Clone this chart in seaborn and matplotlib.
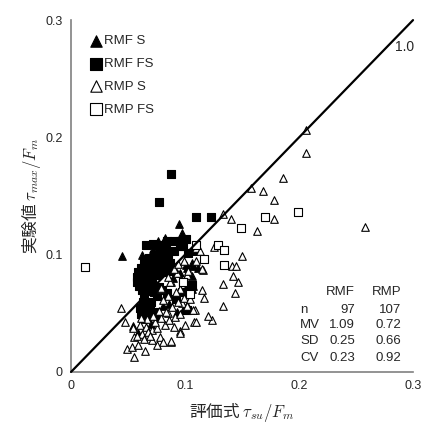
import pandas as pd
import matplotlib
matplotlib.use("Agg")
import matplotlib.pyplot as plt
import seaborn as sns

sns.set_style("white")
plt.rcParams['font.family'] = ['Liberation Sans', 'Noto Sans CJK JP', 'DejaVu Sans']
plt.rcParams['mathtext.fontset'] = 'cm'

# RMF S (filled triangles)
rmf_s_x = [0.045, 0.0945, 0.0766, 0.0825, 0.097, 0.0956, 0.1073, 0.1006, 0.106, 0.1015,
           0.1073, 0.0956, 0.1015, 0.1073, 0.106, 0.1088, 0.1117, 0.106, 0.0927, 0.0985,
           0.054, 0.059, 0.063, 0.070, 0.075, 0.0805, 0.086, 0.0895, 0.072, 0.062]
rmf_s_y = [0.099, 0.1265, 0.112, 0.1143, 0.1185, 0.1128, 0.1028, 0.0914, 0.0928, 0.0886,
           0.090, 0.0843, 0.0729, 0.0729, 0.0815, 0.1028, 0.0886, 0.071, 0.0515, 0.053,
           0.0393, 0.033, 0.045, 0.041, 0.047, 0.056, 0.058, 0.080, 0.105, 0.100]

# RMF FS (filled squares)
rmf_fs_x = [0.066, 0.072, 0.077, 0.084, 0.090, 0.0955, 0.101, 0.0955, 0.090, 0.0985,
            0.103, 0.083, 0.078, 0.0874, 0.0772, 0.110, 0.1225,
            0.073, 0.068, 0.064, 0.061, 0.059, 0.0575, 0.058, 0.060, 0.062, 0.066,
            0.071, 0.0775, 0.081, 0.085, 0.087, 0.084, 0.079, 0.074, 0.068, 0.064,
            0.063, 0.066, 0.070, 0.075, 0.080, 0.088, 0.071, 0.068, 0.064, 0.0635,
            0.065, 0.069, 0.0635, 0.061, 0.066, 0.072, 0.0735, 0.070, 0.075, 0.084,
            0.080, 0.077, 0.073, 0.0605,
            0.0985, 0.097, 0.1015, 0.106, 0.092]
rmf_fs_y = [0.108, 0.109, 0.1085, 0.112, 0.112, 0.112, 0.113, 0.1075, 0.103, 0.107,
            0.101, 0.104, 0.101, 0.169, 0.1447, 0.1325, 0.132,
            0.0995, 0.097, 0.093, 0.089, 0.085, 0.081, 0.077, 0.0735, 0.070, 0.0955,
            0.093, 0.097, 0.094, 0.0985, 0.093, 0.089, 0.090, 0.088, 0.086, 0.082,
            0.077, 0.074, 0.080, 0.083, 0.085, 0.086, 0.075, 0.069, 0.065, 0.060,
            0.056, 0.053, 0.0515, 0.049, 0.047, 0.050, 0.0515, 0.060, 0.0645, 0.067,
            0.070, 0.072, 0.068, 0.0545,
            0.077, 0.068, 0.053, 0.074, 0.062]

# RMP S (open triangles)
rmp_s_x = [0.206, 0.206, 0.186, 0.158, 0.168, 0.178, 0.178, 0.163, 0.140, 0.133,
           0.258, 0.150, 0.1255, 0.1415, 0.1445, 0.142, 0.1468, 0.1336, 0.144, 0.1336,
           0.1237, 0.108, 0.110, 0.0956, 0.1088, 0.1015, 0.1155, 0.110, 0.113, 0.115,
           0.0927, 0.1015, 0.088, 0.0787, 0.097, 0.1073, 0.0854,
           0.0441, 0.047, 0.0489, 0.0538, 0.059, 0.0649, 0.0553, 0.0555, 0.062, 0.0547,
           0.0605, 0.0658, 0.0708, 0.0752, 0.078, 0.0804, 0.0877, 0.0752, 0.0678, 0.0708,
           0.0868, 0.079, 0.0956, 0.1015, 0.088, 0.082, 0.086, 0.091, 0.0955, 0.0835,
           0.079, 0.074, 0.067, 0.061, 0.058, 0.064, 0.069, 0.072, 0.077, 0.089,
           0.094, 0.099, 0.096, 0.092, 0.085, 0.081, 0.104, 0.098, 0.090, 0.094,
           0.099, 0.103, 0.085, 0.1095, 0.1145, 0.117, 0.1205, 0.0905, 0.100]
rmp_s_y = [0.206, 0.187, 0.1655, 0.157, 0.154, 0.147, 0.1305, 0.120, 0.1305, 0.135,
           0.1237, 0.099, 0.1065, 0.090, 0.090, 0.0815, 0.077, 0.075, 0.067, 0.0558,
           0.0444, 0.043, 0.043, 0.0345, 0.053, 0.057, 0.087, 0.1057, 0.1028, 0.0877,
           0.0843, 0.0829, 0.077, 0.0707, 0.0587, 0.053, 0.050,
           0.0544, 0.043, 0.0194, 0.0211, 0.023, 0.0182, 0.0126, 0.0296, 0.0325, 0.0373,
           0.040, 0.0387, 0.0359, 0.0373, 0.0296, 0.0259, 0.0259, 0.023, 0.0344, 0.0273,
           0.077, 0.0714, 0.0336, 0.0558, 0.026, 0.040, 0.044, 0.047, 0.049, 0.051,
           0.046, 0.043, 0.045, 0.046, 0.031, 0.028, 0.031, 0.0475, 0.052, 0.055,
           0.060, 0.063, 0.071, 0.068, 0.065, 0.061, 0.062, 0.079, 0.088, 0.092,
           0.095, 0.086, 0.081, 0.095, 0.070, 0.063, 0.048, 0.038, 0.040]

# RMP FS (open squares)
rmp_fs_x = [0.012, 0.170, 0.199, 0.149, 0.129, 0.1345, 0.117, 0.1345, 0.104, 0.098, 0.110]
rmp_fs_y = [0.0895, 0.132, 0.1365, 0.1225, 0.1085, 0.104, 0.0963, 0.091, 0.0667, 0.077, 0.108]

stat_rows = ['n', 'MV', 'SD', 'CV']
stat_rmf = ['97', '1.09', '0.25', '0.23']
stat_rmp = ['107', '0.72', '0.66', '0.92']

fig = plt.figure(figsize=(4.28, 4.28), dpi=100)
ax = fig.add_axes([0.166, 0.131, 0.799, 0.822])

groups = [
    ('RMF S', rmf_s_x, rmf_s_y, '^', 'black'),
    ('RMF FS', rmf_fs_x, rmf_fs_y, 's', 'black'),
    ('RMP S', rmp_s_x, rmp_s_y, '^', 'white'),
    ('RMP FS', rmp_fs_x, rmp_fs_y, 's', 'white'),
]
for label, xs, ys, mk, fc in groups:
    df = pd.DataFrame({'x': xs, 'y': ys})
    sns.scatterplot(data=df, x='x', y='y', ax=ax, marker=mk, s=30,
                    color=fc, edgecolor='black', linewidth=0.8, label=label, zorder=3)

ax.plot([0, 0.3], [0, 0.3], color='black', linewidth=1.6, clip_on=False, zorder=4)
ax.text(0.284, 0.277, '1.0', fontsize=10, va='center', ha='left')

ax.set_xlim(0, 0.3)
ax.set_ylim(0, 0.3)
ax.set_xticks([0, 0.1, 0.2, 0.3])
ax.set_yticks([0, 0.1, 0.2, 0.3])
ax.set_xticklabels(['0', '0.1', '0.2', '0.3'])
ax.set_yticklabels(['0', '0.1', '0.2', '0.3'])
ax.tick_params(direction='in', length=4, width=1, color='#808080', labelsize=9, pad=6)

for side in ['top', 'right']:
    ax.spines[side].set_visible(False)
for side in ['left', 'bottom']:
    ax.spines[side].set_color('#808080')
    ax.spines[side].set_linewidth(1.2)

# Japanese part needs a CJK font as the label's base font (mathtext does no fallback)
ax.set_xlabel('評価式 $\\tau_{su}/F_m$', fontsize=12, labelpad=6, family='Noto Sans CJK JP')
ax.set_ylabel('実験値 $\\tau_{max}/F_m$', fontsize=12, labelpad=2, family='Noto Sans CJK JP')

leg = ax.legend(loc='upper left', bbox_to_anchor=(0.03, 0.98), frameon=False, fontsize=9.5,
                markerscale=1.5, handletextpad=0.1, handlelength=1.0, labelspacing=0.8,
                borderaxespad=0.2)

# statistics table
ys_tab = [0.176, 0.134, 0.088, 0.040]
ax.text(0.830, 0.227, 'RMF', transform=ax.transAxes, ha='right', va='center', fontsize=9.5)
ax.text(0.965, 0.227, 'RMP', transform=ax.transAxes, ha='right', va='center', fontsize=9.5)
for r, a, b, yy in zip(stat_rows, stat_rmf, stat_rmp, ys_tab):
    ax.text(0.670, yy, r, transform=ax.transAxes, ha='left', va='center', fontsize=9.5)
    ax.text(0.830, yy, a, transform=ax.transAxes, ha='right', va='center', fontsize=9.5)
    ax.text(0.965, yy, b, transform=ax.transAxes, ha='right', va='center', fontsize=9.5)

fig.savefig('out.png', dpi=100)
